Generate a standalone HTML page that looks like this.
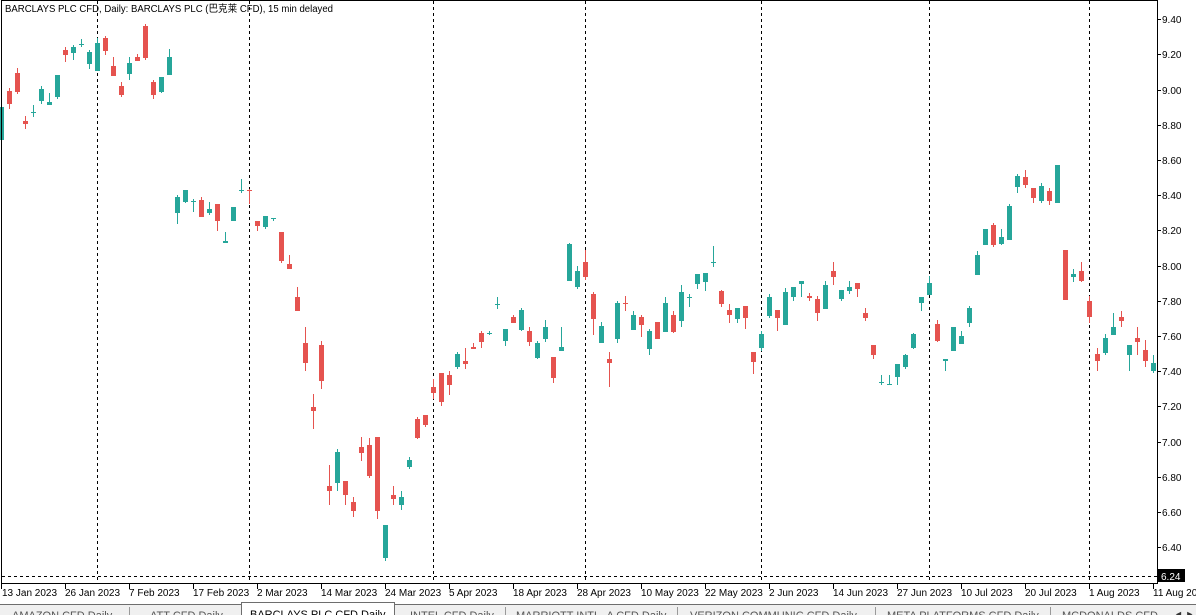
<!DOCTYPE html>
<html><head><meta charset="utf-8">
<style>
html,body{margin:0;padding:0;background:#fff;}
body{width:1196px;height:615px;overflow:hidden;position:relative;font-family:"Liberation Sans","Noto Sans CJK SC",sans-serif;}
svg{position:absolute;left:0;top:0;}
text{font-family:"Liberation Sans","Noto Sans CJK SC",sans-serif;}
</style></head><body>
<svg id="s" width="1196" height="615" xmlns="http://www.w3.org/2000/svg">
<rect x="0" y="0" width="1196" height="615" fill="#fff"/>
<g id="grid" stroke="#000" stroke-width="1" stroke-dasharray="3,3" fill="none">
<line x1="97.5" y1="1" x2="97.5" y2="583"/>
<line x1="249.5" y1="1" x2="249.5" y2="583"/>
<line x1="433.5" y1="1" x2="433.5" y2="583"/>
<line x1="585.5" y1="1" x2="585.5" y2="583"/>
<line x1="761.5" y1="1" x2="761.5" y2="583"/>
<line x1="929.5" y1="1" x2="929.5" y2="583"/>
<line x1="1089.5" y1="1" x2="1089.5" y2="583"/>
<line x1="2" y1="576.5" x2="1157" y2="576.5"/>
</g>
<g id="candles"></g>
<rect x="1.5" y="0.5" width="1156" height="583" fill="none" stroke="#000" stroke-width="1"/>
<text x="5" y="12" font-size="10" fill="#000" textLength="328" lengthAdjust="spacingAndGlyphs">BARCLAYS PLC CFD, Daily:  BARCLAYS PLC (巴克莱 CFD), 15 min delayed</text>
<g font-size="10" fill="#000" stroke="none">
<text x="1162" y="23">9.40</text>
<text x="1162" y="58">9.20</text>
<text x="1162" y="94">9.00</text>
<text x="1162" y="129">8.80</text>
<text x="1162" y="164">8.60</text>
<text x="1162" y="199">8.40</text>
<text x="1162" y="234">8.20</text>
<text x="1162" y="270">8.00</text>
<text x="1162" y="305">7.80</text>
<text x="1162" y="340">7.60</text>
<text x="1162" y="375">7.40</text>
<text x="1162" y="410">7.20</text>
<text x="1162" y="446">7.00</text>
<text x="1162" y="481">6.80</text>
<text x="1162" y="516">6.60</text>
<text x="1162" y="551">6.40</text>
</g>
<g stroke="#000" stroke-width="1">
<line x1="1157" y1="19.5" x2="1161" y2="19.5"/><line x1="1157" y1="54.5" x2="1161" y2="54.5"/><line x1="1157" y1="90.5" x2="1161" y2="90.5"/><line x1="1157" y1="125.5" x2="1161" y2="125.5"/><line x1="1157" y1="160.5" x2="1161" y2="160.5"/><line x1="1157" y1="195.5" x2="1161" y2="195.5"/><line x1="1157" y1="230.5" x2="1161" y2="230.5"/><line x1="1157" y1="266.5" x2="1161" y2="266.5"/><line x1="1157" y1="301.5" x2="1161" y2="301.5"/><line x1="1157" y1="336.5" x2="1161" y2="336.5"/><line x1="1157" y1="371.5" x2="1161" y2="371.5"/><line x1="1157" y1="406.5" x2="1161" y2="406.5"/><line x1="1157" y1="442.5" x2="1161" y2="442.5"/><line x1="1157" y1="477.5" x2="1161" y2="477.5"/><line x1="1157" y1="512.5" x2="1161" y2="512.5"/><line x1="1157" y1="547.5" x2="1161" y2="547.5"/>
</g>
<rect x="1158" y="569" width="27" height="13" fill="#000"/>
<text x="1161" y="580" font-size="10" fill="#fff">6.24</text>
<g stroke="#000" stroke-width="1">
<line x1="1.5" y1="584" x2="1.5" y2="589"/><line x1="65.5" y1="584" x2="65.5" y2="589"/><line x1="129.5" y1="584" x2="129.5" y2="589"/><line x1="193.5" y1="584" x2="193.5" y2="589"/><line x1="257.5" y1="584" x2="257.5" y2="589"/><line x1="321.5" y1="584" x2="321.5" y2="589"/><line x1="385.5" y1="584" x2="385.5" y2="589"/><line x1="449.5" y1="584" x2="449.5" y2="589"/><line x1="513.5" y1="584" x2="513.5" y2="589"/><line x1="577.5" y1="584" x2="577.5" y2="589"/><line x1="641.5" y1="584" x2="641.5" y2="589"/><line x1="705.5" y1="584" x2="705.5" y2="589"/><line x1="769.5" y1="584" x2="769.5" y2="589"/><line x1="833.5" y1="584" x2="833.5" y2="589"/><line x1="897.5" y1="584" x2="897.5" y2="589"/><line x1="961.5" y1="584" x2="961.5" y2="589"/><line x1="1025.5" y1="584" x2="1025.5" y2="589"/><line x1="1089.5" y1="584" x2="1089.5" y2="589"/><line x1="1153.5" y1="584" x2="1153.5" y2="589"/>
</g>
<g font-size="10" fill="#000">
<text x="2" y="596">13 Jan 2023</text>
<text x="65" y="596">26 Jan 2023</text>
<text x="129" y="596">7 Feb 2023</text>
<text x="193" y="596">17 Feb 2023</text>
<text x="257" y="596">2 Mar 2023</text>
<text x="321" y="596">14 Mar 2023</text>
<text x="385" y="596">24 Mar 2023</text>
<text x="449" y="596">5 Apr 2023</text>
<text x="513" y="596">18 Apr 2023</text>
<text x="577" y="596">28 Apr 2023</text>
<text x="641" y="596">10 May 2023</text>
<text x="705" y="596">22 May 2023</text>
<text x="769" y="596">2 Jun 2023</text>
<text x="833" y="596">14 Jun 2023</text>
<text x="897" y="596">27 Jun 2023</text>
<text x="961" y="596">10 Jul 2023</text>
<text x="1025" y="596">20 Jul 2023</text>
<text x="1089" y="596">1 Aug 2023</text>
<text x="1153" y="596">11 Aug 2023</text>
</g>
<rect x="0" y="604" width="1196" height="11" fill="#f0f0f0"/>
<line x1="0" y1="604.5" x2="1196" y2="604.5" stroke="#6e6e6e"/>
<rect x="241.5" y="602.5" width="153" height="13" fill="#fff" stroke="#6e6e6e"/>
<g stroke="#9a9a9a"><line x1="129.5" y1="607" x2="129.5" y2="615"/><line x1="505.5" y1="607" x2="505.5" y2="615"/><line x1="677.5" y1="607" x2="677.5" y2="615"/><line x1="875.5" y1="607" x2="875.5" y2="615"/><line x1="1050.5" y1="607" x2="1050.5" y2="615"/></g>
<g font-size="11" fill="#555">
<text x="12" y="619">AMAZON CFD Daily</text>
<text x="150" y="619">ATT CFD Daily</text>
<text x="410" y="619">INTEL CFD Daily</text>
<text x="516" y="619">MARRIOTT INTL -A CFD Daily</text>
<text x="690" y="619">VERIZON COMMUNIC CFD Daily</text>
<text x="887" y="619">META PLATFORMS CFD Daily</text>
<text x="1062" y="619">MCDONALDS CFD Daily</text>
</g>
<rect x="1160" y="605" width="36" height="10" fill="#f0f0f0"/>
<text x="1174" y="617" font-size="9" fill="#333">◄ ►</text>
<text x="250" y="618" font-size="11" fill="#000">BARCLAYS PLC CFD Daily</text>
</svg>
<script>
var d=[
[1,107,140,107,140],[0,91,104,88,109],[0,73,92,68,94],[0,121,124,116,129],[1,112,113,105,117],[1,89,101,86,104],[1,102,105,93,105],[1,75,97,75,99],[0,50,55,47,62],[1,47,53,45,60],
[1,44,45,39,47],[1,52,64,50,69],[1,43,71,38,71],[0,38,51,36,55],[0,66,76,57,76],[0,86,95,82,97],[1,63,74,57,80],[0,57,61,54,61],[0,26,58,24,60],[0,82,95,80,99],
[1,77,92,77,93],[1,57,75,49,75],[1,197,213,195,224],[1,190,202,190,203],[1,201,202,199,212],[0,200,217,197,217],[1,209,213,202,215],[0,204,221,204,231],[1,241,243,232,243],[1,207,221,207,221],
[1,190,191,179,193],[0,190,191,189,204],[0,221,226,221,231],[1,216,227,216,229],[1,218,219,218,221],[0,232,261,232,263],[0,264,269,255,269],[0,297,311,287,311],[0,343,363,327,371],[0,407,411,394,429],
[0,345,381,341,389],[0,486,491,465,505],[1,452,483,449,491],[0,481,495,481,505],[0,502,511,497,517],[0,447,453,437,461],[0,445,476,438,478],[0,437,511,437,519],[1,525,558,525,561],[0,495,499,486,505],
[1,497,505,491,510],[1,460,467,457,469],[0,419,438,417,439],[0,415,425,415,427],[0,387,393,379,399],[0,373,402,373,406],[0,375,385,371,395],[1,354,367,352,369],[0,361,364,348,369],[0,347,349,343,349],
[0,333,342,331,348],[1,333,334,331,335],[1,304,305,297,309],[1,329,341,329,346],[0,317,323,315,323],[1,310,330,308,331],[0,331,342,327,346],[1,343,358,341,359],[1,327,339,320,342],[0,357,378,357,383],
[1,347,351,327,351],[1,244,281,243,281],[1,271,287,266,289],[0,262,277,250,280],[0,294,319,292,335],[1,326,343,322,343],[0,359,363,352,387],[1,303,339,301,343],[0,303,304,296,311],[1,315,330,311,330],
[0,317,325,315,337],[1,331,349,329,355],[0,322,339,322,339],[1,303,332,297,332],[0,315,332,311,333],[1,292,321,285,327],[1,297,298,294,307],[1,274,284,274,289],[1,273,282,273,291],[1,262,263,246,267],
[0,291,304,290,307],[0,310,315,304,323],[1,308,319,308,323],[0,306,318,306,329],[0,352,362,352,374],[1,334,348,331,351],[1,297,316,294,318],[0,310,318,310,331],[1,292,325,288,325],[1,287,297,287,301],
[1,281,284,281,297],[0,296,298,293,301],[0,299,313,296,321],[1,285,309,281,309],[0,271,277,262,285],[1,290,299,290,301],[1,287,291,281,294],[0,283,289,283,297],[0,313,318,308,321],[0,345,355,345,359],
[1,382,383,375,385],[1,384,385,375,385],[1,364,377,364,385],[1,355,367,354,369],[1,334,348,333,349],[1,297,303,297,311],[1,283,295,276,295],[0,324,341,320,342],[1,359,361,359,371],[1,327,351,327,351],
[1,336,344,331,344],[1,308,323,306,327],[1,255,275,251,275],[1,229,245,229,245],[0,225,245,223,247],[1,237,244,229,245],[1,206,240,204,240],[1,176,187,174,193],[0,177,185,170,188],[0,188,198,188,203],
[1,186,201,183,203],[0,191,201,188,205],[1,165,203,165,203],[0,250,300,250,300],[1,274,277,269,282],[0,271,281,262,282],[0,301,317,296,323],[0,354,361,348,371],[1,338,353,334,355],[1,327,335,313,335],
[0,317,321,311,327],[1,345,355,345,371],[0,338,342,327,355],[0,350,361,340,367],[1,363,371,355,373]];
var g=document.getElementById('candles'),h='';
for(var i=0;i<d.length;i++){var c=d[i],col=c[0]?'#26a69a':'#e5534f',bx=8*i-1,wx=8*i+1;
var bt=c[1],bh=Math.max(1,c[2]-c[1]);
h+='<rect x="'+wx+'" y="'+c[3]+'" width="1" height="'+Math.max(1,c[4]-c[3])+'" fill="'+col+'"/>';
h+='<rect x="'+bx+'" y="'+bt+'" width="5" height="'+bh+'" fill="'+col+'"/>';}
g.innerHTML=h;
</script>
</body></html>
